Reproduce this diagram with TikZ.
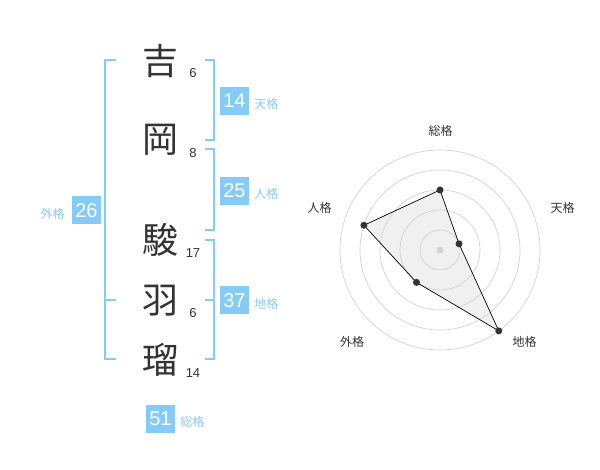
\documentclass[tikz,border=0pt]{standalone}
\usepackage{fontspec}
\setmainfont{Liberation Sans}
\newfontfamily\cjk{Noto Sans CJK JP}
\usetikzlibrary{positioning}
\definecolor{kakublue}{HTML}{85CBF8}
\definecolor{inkgray}{HTML}{333333}
\definecolor{ringgray}{HTML}{D2D2D2}
\definecolor{radarfill}{HTML}{F0F0F0}
\begin{document}
\begin{tikzpicture}[x=1pt,y=-1pt,
	kanji/.style={font=\cjk\fontsize{36}{36}\selectfont,text=inkgray,inner sep=0pt},
	kakusu/.style={font=\fontsize{13}{13}\selectfont,text=inkgray,inner sep=0pt},
	kakubox/.style={fill=kakublue,text=white,font=\fontsize{20}{20}\selectfont,minimum width=29pt,minimum height=28pt,inner sep=0pt},
	kakuname/.style={font=\cjk\fontsize{12}{12}\selectfont,text=kakublue,inner sep=0pt},
	bracket/.style={draw=kakublue,line width=2pt},
	axisname/.style={font=\cjk\fontsize{12}{12}\selectfont,text=inkgray,inner sep=0pt}]
			\useasboundingbox (0,0) rectangle (600,470);
			\def\sou{60} % 総格
			\def\ten{20} % 天格
			\def\chi{100} % 地格
			\def\gai{40} % 外格
			\def\jin{80} % 人格
			% name
			\node[kanji] (k1) at (160,61) {吉};
			\node[kanji] (k2) at (160,140) {岡};
			\node[kanji] (k3) at (160,240) {駿};
			\node[kanji] (k4) at (160,301) {羽};
			\node[kanji] (k5) at (160,360) {瑠};
			\node[kakusu] (n1) at (193,73) {6};
			\node[kakusu] (n2) at (193,153) {8};
			\node[kakusu] (n3) at (193,253) {17};
			\node[kakusu] (n4) at (193,313) {6};
			\node[kakusu] (n5) at (193,373) {14};
			% brackets
			\draw[bracket] (116,60) -| (105,359) -- (116,359) (105,300) -- (116,300);
			\draw[bracket] (205,60) -| (214,140) -- (205,140);
			\draw[bracket] (205,149) -| (214,230) -- (205,230);
			\draw[bracket] (205,240) -| (214,359) -- (205,359) (205,300) -- (214,300);
			% totals
			\node[kakubox] (ten) at (234.5,101) {14};
			\node[kakubox] (jin) at (234.5,191) {25};
			\node[kakubox] (chi) at (234.5,300.5) {37};
			\node[kakubox] (gai) at (86.5,210.5) {26};
			\node[kakubox] (sou) at (160.5,419) {51};
			\node[kakuname,right=5pt of ten,yshift=-3pt] (tenname) {天格};
			\node[kakuname,right=5pt of jin,yshift=-3pt] (jinname) {人格};
			\node[kakuname,right=5pt of chi,yshift=-3pt] (chiname) {地格};
			\node[kakuname,left=7pt of gai,yshift=-3pt] (gainame) {外格};
			\node[kakuname,right=5pt of sou,yshift=-3pt] (souname) {総格};
			% radar
			\begin{scope}[shift={(440,250)},yscale=-1]
			\coordinate (p1) at (90:\sou);
			\coordinate (p2) at (18:\ten);
			\coordinate (p3) at (-54:\chi);
			\coordinate (p4) at (234:\gai);
			\coordinate (p5) at (162:\jin);
			\fill[radarfill] (p1)--(p2)--(p3)--(p4)--(p5)--cycle;
			\foreach \r in {20,40,60,80,100} \draw[ringgray,line width=0.7pt] (0,0) circle (\r);
			\draw[black,line width=0.7pt] (p1)--(p2)--(p3)--(p4)--(p5)--cycle;
			\fill[inkgray] (p1) circle (3.5) (p2) circle (3.5) (p3) circle (3.5) (p4) circle (3.5) (p5) circle (3.5);
			\fill[ringgray] (0,0) circle (3.5);
			\node[axisname] (asou) at (0.5,119) {総格};
			\node[axisname] (aten) at (122.5,42) {天格};
			\node[axisname] (achi) at (84.5,-92) {地格};
			\node[axisname] (agai) at (-88,-92) {外格};
			\node[axisname] (ajin) at (-120.5,42) {人格};
			\end{scope}
\end{tikzpicture}
\end{document}
